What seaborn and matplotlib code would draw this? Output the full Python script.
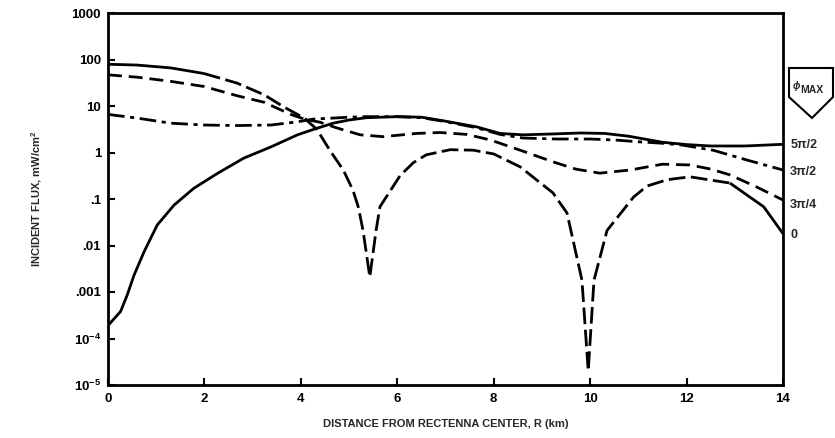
import numpy as np
import pandas as pd
import matplotlib
matplotlib.use("Agg")
import matplotlib.pyplot as plt
import seaborn as sns
from matplotlib.patches import Polygon

# ---- data ----
x_phi0 = [0, 0.6, 1.3, 1.99, 2.68, 3.24, 3.65, 4.07, 4.33, 4.6,
          4.88, 5.08, 5.19, 5.29, 5.43, 5.56, 5.64, 6.06, 6.33, 6.6,
          7.1, 7.58, 8.0, 8.55, 9.23, 9.52, 9.83, 9.96, 10.08, 10.35,
          10.9, 11.18, 11.6, 12.07, 12.9, 13.6, 14.0]
flux_phi0 = [79, 76, 66, 50, 31, 17.4, 9.5, 5.5, 3.16, 1.12,
             0.42, 0.155, 0.068, 0.021, 0.0021, 0.021, 0.068, 0.32, 0.6, 0.89,
             1.15, 1.12, 0.93, 0.49, 0.135, 0.05, 0.0018, 2e-5, 0.0018, 0.021,
             0.11, 0.19, 0.26, 0.3, 0.22, 0.068, 0.018]

x_3pi4 = [0, 0.6, 1.3, 1.99, 2.68, 3.24, 3.79, 4.07, 4.4, 4.74, 5.23, 5.71, 6.4,
          6.89, 7.44, 7.93, 8.55, 9.23, 9.7, 10.2, 10.83, 11.5, 12.07, 12.5, 12.9,
          13.46, 14.0]
flux_3pi4 = [46.8, 41.7, 33.9, 26.3, 16.6, 12.0, 6.6, 5.25, 4.47, 3.39, 2.4, 2.19, 2.57,
             2.69, 2.45, 1.86, 1.12, 0.63, 0.44, 0.36, 0.42, 0.56, 0.54, 0.44, 0.33,
             0.18, 0.095]

x_3pi2 = [0, 0.6, 1.3, 1.99, 2.68, 3.38, 3.93, 4.27, 4.67, 5.0, 5.36, 6.0, 6.5,
          6.96, 7.65, 8.13, 8.6, 9.3, 10.0, 10.5, 11.0, 11.5, 11.9, 12.55, 13.25, 14.0]
flux_3pi2 = [6.6, 5.5, 4.27, 3.9, 3.8, 3.9, 4.57, 5.25, 5.5, 5.75, 5.9, 5.9, 5.6,
             4.7, 3.4, 2.45, 2.05, 1.95, 1.95, 1.86, 1.7, 1.58, 1.45, 1.12, 0.69, 0.42]

x_5pi2 = [0, 0.26, 0.40, 0.54, 0.75, 1.02, 1.37, 1.78, 2.27, 2.82, 3.38, 3.93, 4.27,
          4.67, 5.0, 5.36, 6.0, 6.5, 6.96, 7.65, 8.13, 8.6, 9.2, 9.8, 10.3, 10.8,
          11.5, 12.0, 12.5, 13.2, 14.0]
flux_5pi2 = [1.9e-4, 3.8e-4, 8.7e-4, 2.3e-3, 7.4e-3, 0.0275, 0.074, 0.17, 0.355, 0.76,
             1.32, 2.4, 3.16, 4.27, 5.0, 5.6, 5.9, 5.75, 4.8, 3.55, 2.57, 2.4, 2.5,
             2.63, 2.57, 2.24, 1.66, 1.48, 1.38, 1.38, 1.5]

curve_labels = ["5\u03c0/2", "3\u03c0/2", "3\u03c0/4", "0"]
label_flux = [1.45, 0.38, 0.074, 0.017]

y_ticks = [1e-5, 1e-4, 1e-3, 1e-2, 1e-1, 1, 10, 100, 1000]
y_ticklabels = [r"$10^{-5}$", r"$10^{-4}$", ".001", ".01", ".1", "1", "10", "100", "1000"]
x_ticks = [0, 2, 4, 6, 8, 10, 12, 14]

# ---- style ----
sns.set_style("white")
plt.rcParams['font.family'] = ['Liberation Sans', 'DejaVu Sans']
plt.rcParams['font.weight'] = 'bold'
plt.rcParams['mathtext.fontset'] = 'custom'
plt.rcParams['mathtext.rm'] = 'Liberation Sans:bold'
plt.rcParams['mathtext.bf'] = 'Liberation Sans:bold'
plt.rcParams['mathtext.it'] = 'Liberation Sans:bold:italic'
plt.rcParams['mathtext.sf'] = 'Liberation Sans:bold'

W, H = 835, 438
fig = plt.figure(figsize=(W / 100, H / 100), dpi=100)
ax = fig.add_axes([108 / W, 1 - 385 / H, 675 / W, 372 / H])

LW = 2.0


def draw(xs, ys, dashes=None):
    df = pd.DataFrame({"x": xs, "y": ys})
    n_before = len(ax.lines)
    sns.lineplot(data=df, x="x", y="y", ax=ax, color="black", linewidth=LW,
                 sort=False, estimator=None)
    line = ax.lines[n_before]
    line.set_solid_capstyle("butt")
    line.set_solid_joinstyle("round")
    if dashes is not None:
        line.set_dashes(dashes)
        line.set_dash_capstyle("butt")


# 5pi/2 : solid
draw(x_5pi2, flux_5pi2)
# 3pi/2 : dash-dot
draw(x_3pi2, flux_3pi2, (6, 2, 1.5, 2))
# 3pi/4 : dashed
draw(x_3pi4, flux_3pi4, (5, 2.5))
# 0 : solid start, long dashes, solid end
xa = np.array(x_phi0)
fa = np.array(flux_phi0)
i1 = int(np.where(xa == 1.99)[0][0])
i2 = int(np.where(xa == 12.9)[0][0])
draw(xa[:i1 + 1], fa[:i1 + 1])
draw(xa[i1:i2 + 1], fa[i1:i2 + 1], (6, 2))
draw(xa[i2:], fa[i2:])

ax.set_yscale("log")
ax.set_xlim(0, 14)
ax.set_ylim(1e-5, 1e3)
ax.set_yticks(y_ticks)
ax.set_yticklabels(y_ticklabels)
ax.yaxis.set_minor_locator(matplotlib.ticker.NullLocator())
ax.set_xticks(x_ticks)
ax.set_xticklabels([str(t) for t in x_ticks])
ax.tick_params(axis="both", which="major", direction="in", length=5, width=1.5,
               labelsize=9.5, colors="black", left=True, bottom=True,
               right=False, top=False)
ax.tick_params(axis="x", pad=6)
ax.tick_params(axis="y", pad=5)
for lab in ax.get_xticklabels() + ax.get_yticklabels():
    lab.set_fontweight("bold")
for s in ax.spines.values():
    s.set_visible(True)
    s.set_color("black")
    s.set_linewidth(2.0)

ax.set_xlabel("DISTANCE FROM RECTENNA CENTER, R (km)", fontsize=8, fontweight="bold",
              labelpad=10)
ax.set_ylabel(r"INCIDENT FLUX, mW/cm$^2$", fontsize=8, fontweight="bold", labelpad=20)

for lab, v in zip(curve_labels, label_flux):
    ax.text(14.15, v, lab, fontsize=9, fontweight="bold", va="center", ha="left",
            clip_on=False)

# phi_MAX pentagon tag (figure pixel coordinates)
pts = [(789, 68), (833, 68), (833, 97), (812, 118), (789, 97)]
poly = Polygon([(px / W, 1 - py / H) for px, py in pts], closed=True,
               transform=fig.transFigure, fill=False, edgecolor="black", linewidth=1.5)
fig.add_artist(poly)
fig.text(792 / W, 1 - 86 / H, r"$\phi$", fontsize=7, fontweight="bold", ha="left",
         va="center")
fig.text(800 / W, 1 - 90 / H, "MAX", fontsize=7.5, fontweight="bold", ha="left",
         va="center")

fig.savefig("out.png", dpi=100, facecolor="white")
